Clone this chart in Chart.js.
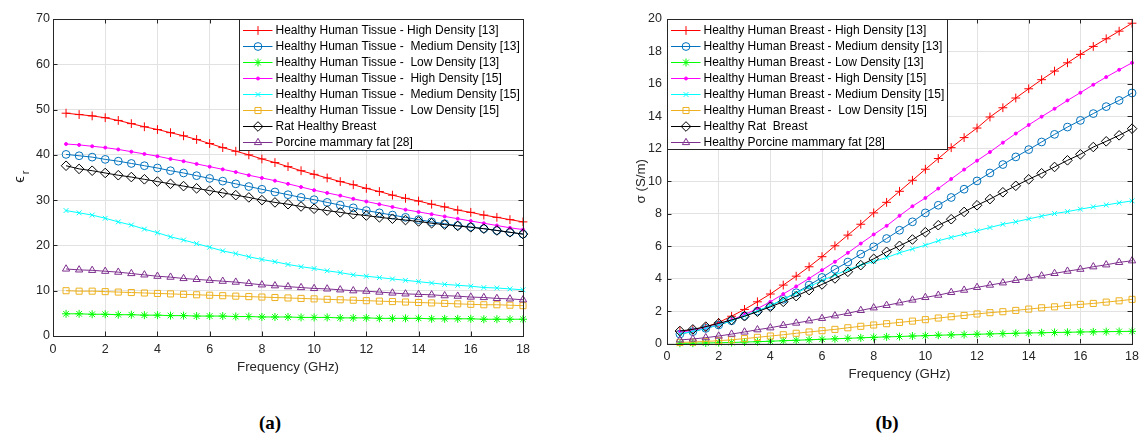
<!DOCTYPE html>
<html><head><meta charset="utf-8">
<script src="https://cdn.jsdelivr.net/npm/chart.js@4.4.0/dist/chart.umd.min.js"></script>
<style>
html,body{margin:0;padding:0;background:#fff;width:1145px;height:435px;overflow:hidden;}
.wrap{position:absolute;}
.cap{position:absolute;font-family:'Liberation Serif','DejaVu Serif',serif;font-weight:bold;font-size:19px;color:#000;transform:translate(-50%,-50%);white-space:nowrap;}
</style></head><body>
<div class="wrap" style="left:0;top:0;width:560px;height:400px"><canvas id="ca" width="560" height="400"></canvas></div>
<div class="wrap" style="left:570px;top:0;width:575px;height:400px"><canvas id="cb" width="575" height="400"></canvas></div>
<div class="cap" style="left:270px;top:423px">(a)</div>
<div class="cap" style="left:887px;top:423px">(b)</div>
<script>
// ---------- data ----------
const freq = [0.5,1,1.5,2,2.5,3,3.5,4,4.5,5,5.5,6,6.5,7,7.5,8,8.5,9,9.5,10,10.5,11,11.5,12,12.5,13,13.5,14,14.5,15,15.5,16,16.5,17,17.5,18];
const xTicks = [0,2,4,6,8,10,12,14,16,18];
const yTicksA = [0,10,20,30,40,50,60,70];
const yTicksB = [0,2,4,6,8,10,12,14,16,18,20];

const labelsA = [
  'Healthy Human Tissue - High Density [13]',
  'Healthy Human Tissue -  Medium Density [13]',
  'Healthy Human Tissue -  Low Density [13]',
  'Healthy Human Tissue -  High Density [15]',
  'Healthy Human Tissue -  Medium Density [15]',
  'Healthy Human Tissue -  Low Density [15]',
  'Rat Healthy Breast',
  'Porcine mammary fat [28]'
];
const labelsB = [
  'Healthy Human Breast - High Density [13]',
  'Healthy Human Breast - Medium density [13]',
  'Healthy Human Breast - Low Density [13]',
  'Healthy Human Breast - High Density [15]',
  'Healthy Human Breast - Medium Density [15]',
  'Healthy Human Breast -  Low Density [15]',
  'Healthy Rat  Breast',
  'Healthy Porcine mammary fat [28]'
];

// (a) relative permittivity
const epsHD13 = [49.2,48.9,48.6,48.2,47.6,46.9,46.2,45.6,44.9,44.2,43.4,42.5,41.6,40.8,40.0,39.1,38.3,37.4,36.5,35.7,34.9,34.1,33.4,32.6,31.9,31.1,30.4,29.8,29.1,28.5,27.8,27.3,26.7,26.2,25.7,25.2];
const epsMD13 = [40.1,39.8,39.5,39.0,38.6,38.1,37.6,37.1,36.5,36.0,35.4,34.8,34.2,33.6,33.0,32.4,31.8,31.2,30.6,30.1,29.5,28.9,28.3,27.7,27.2,26.7,26.2,25.7,25.2,24.8,24.4,24.1,23.7,23.3,22.9,22.5];
const epsLD13 = [4.9,4.9,4.8,4.8,4.7,4.7,4.6,4.6,4.5,4.5,4.4,4.4,4.4,4.3,4.3,4.2,4.2,4.2,4.1,4.1,4.1,4.0,4.0,4.0,3.9,3.9,3.9,3.9,3.8,3.8,3.8,3.8,3.7,3.7,3.7,3.7];
const epsHD15 = [42.4,42.2,41.9,41.6,41.2,40.7,40.2,39.7,39.1,38.6,38.0,37.4,36.8,36.2,35.5,34.9,34.3,33.6,32.9,32.2,31.6,31.0,30.3,29.7,29.1,28.5,27.9,27.4,26.9,26.4,25.9,25.4,24.9,24.4,23.9,23.5];
const epsMD15 = [27.7,27.2,26.7,26.0,25.2,24.5,23.6,22.8,21.9,21.2,20.4,19.6,18.8,18.2,17.5,16.9,16.4,15.8,15.3,14.9,14.4,14.0,13.5,13.2,12.9,12.6,12.3,12.0,11.7,11.4,11.2,11.0,10.7,10.6,10.4,10.2];
const epsLD15 = [10.0,9.9,9.9,9.8,9.7,9.6,9.5,9.4,9.3,9.2,9.1,9.0,8.9,8.8,8.7,8.6,8.5,8.4,8.3,8.2,8.1,8.0,7.9,7.8,7.7,7.6,7.5,7.4,7.3,7.2,7.1,7.0,6.9,6.9,6.8,6.7];
const epsRat  = [37.6,36.9,36.5,36.0,35.5,35.1,34.6,34.1,33.6,33.1,32.6,32.1,31.6,31.1,30.6,30.0,29.5,29.1,28.6,28.1,27.7,27.3,26.9,26.6,26.2,25.9,25.6,25.3,24.9,24.6,24.3,24.0,23.7,23.3,22.9,22.5];
const epsPorc = [14.8,14.6,14.5,14.3,14.1,13.8,13.5,13.2,13.0,12.7,12.5,12.3,12.1,11.9,11.6,11.3,11.1,10.9,10.7,10.5,10.4,10.2,10.0,9.9,9.7,9.5,9.3,9.2,9.1,8.9,8.8,8.6,8.5,8.3,8.2,8.0];

// (b) conductivity (S/m)
const sigHD13 = [0.75,0.85,1.02,1.30,1.68,2.10,2.57,3.05,3.60,4.15,4.73,5.35,6.02,6.68,7.35,8.05,8.70,9.38,10.06,10.74,11.40,12.07,12.69,13.28,13.96,14.53,15.13,15.70,16.26,16.79,17.30,17.82,18.31,18.78,19.25,19.74];
const sigMD13 = [0.58,0.73,0.93,1.14,1.40,1.71,2.00,2.31,2.72,3.13,3.60,4.07,4.57,5.02,5.51,5.96,6.47,6.98,7.50,8.05,8.52,9.00,9.51,10.02,10.51,11.03,11.50,11.95,12.42,12.89,13.34,13.75,14.17,14.60,14.98,15.44];
const sigLD13 = [0.01,0.02,0.03,0.05,0.06,0.09,0.11,0.14,0.17,0.20,0.23,0.26,0.29,0.32,0.35,0.38,0.41,0.43,0.46,0.48,0.51,0.53,0.55,0.57,0.59,0.61,0.63,0.65,0.66,0.68,0.69,0.71,0.72,0.73,0.74,0.75];
const sigHD15 = [0.70,0.80,0.95,1.17,1.45,1.78,2.15,2.57,3.05,3.52,4.01,4.52,5.04,5.59,6.16,6.72,7.25,7.87,8.46,8.97,9.55,10.14,10.72,11.27,11.80,12.38,12.94,13.47,13.98,14.47,14.98,15.46,15.95,16.42,16.87,17.30];
const sigMD15 = [0.60,0.75,0.93,1.15,1.40,1.70,2.00,2.35,2.72,3.10,3.50,3.88,4.22,4.55,4.83,5.05,5.30,5.59,5.83,6.06,6.33,6.54,6.74,6.94,7.15,7.35,7.50,7.68,7.85,8.01,8.13,8.28,8.42,8.54,8.67,8.79];
const sigLD15 = [0.07,0.09,0.13,0.17,0.23,0.30,0.38,0.46,0.54,0.63,0.71,0.79,0.87,0.97,1.06,1.14,1.22,1.30,1.38,1.47,1.57,1.65,1.73,1.82,1.90,1.96,2.04,2.12,2.20,2.26,2.35,2.41,2.47,2.55,2.63,2.72];
const sigRat  = [0.77,0.87,1.04,1.24,1.45,1.68,1.96,2.26,2.57,2.92,3.29,3.64,4.01,4.42,4.83,5.22,5.65,6.02,6.41,6.86,7.29,7.66,8.11,8.52,8.90,9.32,9.72,10.12,10.49,10.88,11.29,11.66,12.11,12.46,12.83,13.24];
const sigPorc = [0.22,0.28,0.36,0.46,0.58,0.71,0.85,0.97,1.12,1.26,1.40,1.55,1.71,1.86,2.04,2.20,2.35,2.51,2.68,2.84,2.98,3.15,3.29,3.46,3.60,3.74,3.89,4.03,4.17,4.32,4.46,4.58,4.73,4.85,5.00,5.10];

// ---------- styles ----------
const FONT = "'Liberation Sans', Arial, Helvetica, sans-serif";
const AXC = '#262626';
const styles = [
  {color:'#ff0000', pointStyle:'cross',    radius:4.4, fill:false},
  {color:'#0072bd', pointStyle:'circle',   radius:3.9, fill:false},
  {color:'#00ff00', pointStyle:'star',     radius:4.0, fill:false},
  {color:'#ff00ff', pointStyle:'circle',   radius:1.5, fill:true},
  {color:'#00ffff', pointStyle:'crossRot', radius:3.4, fill:false},
  {color:'#edb120', pointStyle:'rect',     radius:4.3, fill:false},
  {color:'#000000', pointStyle:'rectRot',  radius:4.8, fill:false},
  {color:'#7e2f8e', pointStyle:'triangle', radius:4.2, fill:false}
];

function buildDatasets(labels, series){
  return series.map((vals,i)=>{
    const s = styles[i];
    return {
      label: labels[i],
      data: freq.map((f,k)=>({x:f, y:vals[k]})),
      borderColor: s.color,
      backgroundColor: s.color,
      borderWidth: 1,
      pointStyle: s.pointStyle,
      pointRadius: s.radius,
      pointBorderColor: s.color,
      pointBackgroundColor: s.fill ? s.color : 'rgba(0,0,0,0)',
      pointBorderWidth: 1,
      tension: 0,
      clip: false,
      order: 10 - i
    };
  });
}

// frame + inward ticks
const framePlugin = {
  id: 'frame',
  afterDatasetsDraw(chart){
    const {ctx, chartArea:a, scales:{x, y}} = chart;
    ctx.save();
    ctx.strokeStyle = AXC; ctx.lineWidth = 1;
    const tl = 4.5;
    ctx.beginPath();
    x.ticks.forEach(t=>{
      const px = Math.round(x.getPixelForValue(t.value)) + 0.5;
      ctx.moveTo(px, a.bottom); ctx.lineTo(px, a.bottom - tl);
      ctx.moveTo(px, a.top); ctx.lineTo(px, a.top + tl);
    });
    y.ticks.forEach(t=>{
      const py = Math.round(y.getPixelForValue(t.value)) + 0.5;
      ctx.moveTo(a.left, py); ctx.lineTo(a.left + tl, py);
      ctx.moveTo(a.right, py); ctx.lineTo(a.right - tl, py);
    });
    ctx.stroke();
    ctx.strokeRect(Math.round(a.left)+0.5, Math.round(a.top)+0.5, Math.round(a.right - a.left), Math.round(a.bottom - a.top));
    ctx.restore();
  }
};

// legend drawn inside the axes
const boxLegendPlugin = {
  id: 'boxLegend',
  afterDraw(chart, args, opts){
    const {ctx, chartArea:a} = chart;
    const w = opts.width, h = opts.height;
    const left = Math.round(opts.anchor === 'right' ? a.right - w : a.left) + 0.5;
    const top = Math.round(a.top) + 0.5;
    ctx.save();
    ctx.fillStyle = '#ffffff';
    ctx.fillRect(left, top, w, h);
    ctx.strokeStyle = AXC; ctx.lineWidth = 1;
    ctx.strokeRect(left, top, w, h);
    ctx.font = '12px ' + FONT;
    ctx.textBaseline = 'middle';
    ctx.textAlign = 'left';
    chart.data.datasets.forEach((ds,i)=>{
      const cy = Math.round(top + 10 + i*16);
      ctx.strokeStyle = ds.borderColor; ctx.lineWidth = 1;
      ctx.beginPath(); ctx.moveTo(left+3.5, cy+0.5); ctx.lineTo(left+33, cy+0.5); ctx.stroke();
      ctx.fillStyle = ds.pointBackgroundColor;
      ctx.strokeStyle = ds.pointBorderColor;
      Chart.helpers.drawPoint(ctx, {pointStyle: ds.pointStyle, radius: ds.pointRadius, borderWidth: 1, rotation: 0}, left+18.5, cy+0.5);
      ctx.fillStyle = '#000';
      ctx.fillText(ds.label, left+36, cy+0.5);
    });
    ctx.restore();
  }
};

// epsilon_r y-axis title for panel (a)
const epsTitlePlugin = {
  id: 'epsTitle',
  afterDraw(chart, args, opts){
    if (!opts.on) return;
    const {ctx, chartArea:a} = chart;
    const cy = (a.top + a.bottom)/2 + 2;
    ctx.save();
    ctx.translate(20, cy);
    ctx.rotate(-Math.PI/2);
    ctx.fillStyle = AXC;
    ctx.textAlign = 'center'; ctx.textBaseline = 'middle';
    ctx.font = '15px ' + FONT;
    ctx.fillText('\u03F5', 0, 0);
    ctx.font = '11px ' + FONT;
    ctx.fillText('r', 7, 6);
    ctx.restore();
  }
};

function makeChart(canvasId, datasets, cfg){
  return new Chart(document.getElementById(canvasId), {
    type: 'line',
    data: { datasets },
    options: {
      responsive: false,
      animation: false,
      devicePixelRatio: 1,
      events: [],
      layout: { padding: cfg.padding },
      plugins: {
        legend: {display:false},
        tooltip: {enabled:false},
        boxLegend: cfg.legend,
        epsTitle: {on: cfg.epsTitle}
      },
      scales: {
        x: {
          type: 'linear', min: 0, max: 18,
          afterBuildTicks: s => { s.ticks = xTicks.map(v=>({value:v})); },
          afterFit: s => { s.height = 39; },
          grid: {color:'#e2e2e2', lineWidth:1, drawTicks:false},
          border: {display:false},
          ticks: {padding: 6, color: AXC, font:{family:FONT, size:12.5}, maxRotation:0, autoSkip:false},
          title: {display:true, text:'Frequency (GHz)', color: AXC, padding:0, font:{family:FONT, size:13.3}}
        },
        y: {
          type: 'linear', min: 0, max: cfg.yMax,
          afterBuildTicks: s => { s.ticks = cfg.yTicks.map(v=>({value:v})); },
          afterFit: s => { s.width = cfg.yWidth; },
          grid: {color:'#e2e2e2', lineWidth:1, drawTicks:false},
          border: {display:false},
          ticks: {padding: cfg.yPad, color: AXC, font:{family:FONT, size:12.5}, autoSkip:false},
          title: {display: !!cfg.yTitle, text: cfg.yTitle || '', color: AXC, padding:0, font:{family:FONT, size:13.3}}
        }
      }
    },
    plugins: [framePlugin, boxLegendPlugin, epsTitlePlugin]
  });
}

makeChart('ca', buildDatasets(labelsA, [epsHD13, epsMD13, epsLD13, epsHD15, epsMD15, epsLD15, epsRat, epsPorc]), {
  padding: {left:0, top:19, right:37, bottom:25},
  yMax: 70, yTicks: yTicksA, yWidth: 53, yPad: 3, yTitle: null, epsTitle: true,
  legend: {anchor:'right', width:284, height:131}
});
makeChart('cb', buildDatasets(labelsB, [sigHD13, sigMD13, sigLD13, sigHD15, sigMD15, sigLD15, sigRat, sigPorc]), {
  padding: {left:63, top:19, right:8, bottom:17.5},
  yMax: 20, yTicks: yTicksB, yWidth: 34, yPad: 5, yTitle: '\u03C3 (S/m)', epsTitle: false,
  legend: {anchor:'left', width:280, height:130}
});
</script>
</body></html>
